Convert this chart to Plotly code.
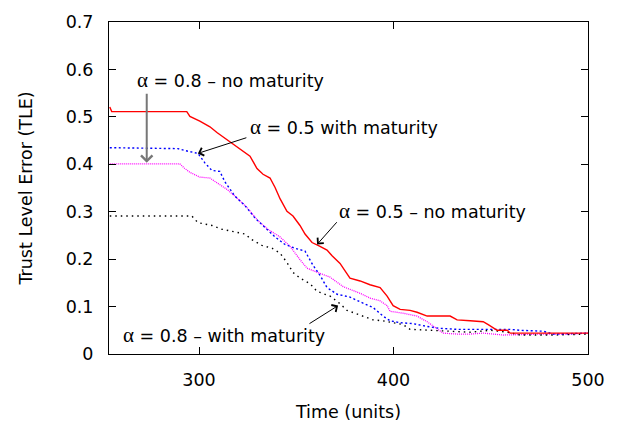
import plotly.graph_objects as go

# alpha = 0.5 - no maturity (red, solid)
red_t = [254.1, 255.1, 293.7, 295.3, 300.4, 305.6, 309.2, 315.9, 321.0, 326.2, 329.8, 332.9,
         336.5, 339.1, 341.7, 345.2, 348.3, 351.9, 354.5, 358.1, 362.2, 365.8, 368.4, 372.5,
         377.6, 382.8, 387.9, 393.1, 396.7, 399.8, 403.4, 408.5, 412.1, 417.3, 429.1, 432.7,
         439.4, 446.1, 448.7, 453.3, 458.5, 460.0, 500.0]
red_v = [0.521, 0.511, 0.511, 0.501, 0.491, 0.479, 0.467, 0.447, 0.431, 0.417, 0.391, 0.379,
         0.371, 0.351, 0.327, 0.301, 0.291, 0.271, 0.253, 0.235, 0.227, 0.219, 0.207, 0.191,
         0.160, 0.154, 0.146, 0.140, 0.122, 0.102, 0.094, 0.092, 0.088, 0.080, 0.080, 0.072,
         0.070, 0.068, 0.062, 0.050, 0.050, 0.044, 0.044]

# alpha = 0.5 with maturity (blue, dotted)
blue_t = [254.1, 289.1, 292.7, 299.4, 303.0, 306.6, 310.7, 313.3, 318.4, 323.6, 328.7, 333.9,
          339.0, 344.2, 349.3, 354.5, 358.6, 362.2, 365.8, 371.0, 377.6, 382.8, 389.5, 394.6,
          398.2, 403.4, 410.1, 417.3, 424.0, 432.7, 446.1, 460.0, 465.1, 477.0, 482.1, 500.0]
blue_v = [0.435, 0.433, 0.429, 0.423, 0.403, 0.387, 0.385, 0.363, 0.333, 0.313, 0.287, 0.267,
          0.247, 0.231, 0.223, 0.217, 0.187, 0.166, 0.140, 0.126, 0.120, 0.110, 0.098, 0.080,
          0.070, 0.066, 0.064, 0.058, 0.054, 0.052, 0.052, 0.052, 0.050, 0.048, 0.042, 0.044]

# alpha = 0.8 - no maturity (magenta, dotted)
mag_t = [254.1, 290.1, 292.7, 295.3, 300.4, 305.6, 309.2, 314.4, 320.0, 325.1, 330.3, 335.4,
         341.6, 346.8, 351.9, 355.5, 362.2, 367.4, 374.1, 382.8, 387.9, 393.1, 396.7, 398.2,
         404.9, 412.1, 417.3, 422.4, 425.5, 432.7, 439.4, 446.1, 456.4, 475.5, 490.9, 500.0]
mag_v = [0.401, 0.401, 0.391, 0.383, 0.373, 0.371, 0.361, 0.347, 0.327, 0.307, 0.281, 0.263,
         0.247, 0.227, 0.199, 0.181, 0.170, 0.162, 0.142, 0.128, 0.118, 0.112, 0.102, 0.090,
         0.086, 0.080, 0.068, 0.052, 0.044, 0.042, 0.042, 0.044, 0.040, 0.042, 0.042, 0.044]

# alpha = 0.8 - with maturity (black, dotted)
blk_t = [254.1, 296.3, 299.4, 306.6, 311.8, 318.4, 323.6, 327.2, 332.3, 337.5, 341.6, 345.2,
         348.3, 351.9, 357.1, 360.7, 367.4, 372.5, 376.1, 382.8, 389.5, 394.6, 399.8, 404.9,
         408.5, 417.3, 429.1, 439.4, 449.7, 458.5, 465.1, 482.1, 500.0]
blk_v = [0.291, 0.291, 0.277, 0.271, 0.263, 0.257, 0.253, 0.241, 0.229, 0.223, 0.213, 0.193,
         0.172, 0.160, 0.148, 0.132, 0.122, 0.106, 0.092, 0.082, 0.072, 0.070, 0.066, 0.062,
         0.052, 0.050, 0.048, 0.046, 0.050, 0.046, 0.040, 0.040, 0.042]

y_ticks = [0, 0.1, 0.2, 0.3, 0.4, 0.5, 0.6, 0.7]
y_tick_labels = ["0", "0.1", "0.2", "0.3", "0.4", "0.5", "0.6", "0.7"]
x_ticks = [300, 400, 500]

FONT = "DejaVu Sans"
FS = 17.5
ALPHA = '<span style="font-family:\'Liberation Serif\'; font-size:21px">α</span>'

fig = go.Figure()
fig.add_trace(go.Scatter(x=mag_t, y=mag_v, mode="lines",
                         line=dict(color="#ff00ff", width=1.3, dash="1px,1px")))
fig.add_trace(go.Scatter(x=blk_t, y=blk_v, mode="lines",
                         line=dict(color="#000000", width=1.4, dash="1.5px,4px")))
fig.add_trace(go.Scatter(x=blue_t, y=blue_v, mode="lines",
                         line=dict(color="#0000ff", width=1.4, dash="2px,2.5px")))
fig.add_trace(go.Scatter(x=red_t, y=red_v, mode="lines",
                         line=dict(color="#ff0000", width=1.4)))

axis_common = dict(showgrid=False, zeroline=False, showline=True, linecolor="black",
                   linewidth=1, mirror="ticks", ticks="inside", ticklen=7,
                   tickcolor="black", tickwidth=1,
                   tickfont=dict(family=FONT, size=FS, color="black"))

fig.update_xaxes(range=[253.7, 500], tickvals=x_ticks, ticktext=[str(v) for v in x_ticks],
                 ticklabelstandoff=10,
                 title=dict(text="Time (units)", font=dict(family=FONT, size=FS, color="black"),
                            standoff=16),
                 **axis_common)
fig.update_yaxes(range=[0, 0.7], tickvals=y_ticks, ticktext=y_tick_labels,
                 ticklabelstandoff=11,
                 title=dict(text="Trust Level Error (TLE)",
                            font=dict(family=FONT, size=FS, color="black"), standoff=28),
                 **axis_common)

# label texts
labels = [
    (266.9, 0.578, ALPHA + " = 0.8 – no maturity"),
    (325.1, 0.479, ALPHA + " = 0.5 with maturity"),
    (371.0, 0.301, ALPHA + " = 0.5 – no maturity"),
    (259.8, 0.040, ALPHA + " = 0.8 – with maturity"),
]
for x, y, t in labels:
    fig.add_annotation(x=x, y=y, text=t, showarrow=False, xanchor="left", yanchor="middle",
                       font=dict(family=FONT, size=FS, color="black"))

# arrows: (head_x, head_y, tail_x, tail_y, color, width)
arrows = [
    (273.1, 0.403, 273.1, 0.552, "#777777", 2),
    (299.4, 0.423, 325.1, 0.457, "black", 1),
    (360.7, 0.231, 371.5, 0.281, "black", 1),
    (371.5, 0.102, 356.0, 0.062, "black", 1),
]
for hx, hy, tx, ty, c, w in arrows:
    fig.add_annotation(x=hx, y=hy, ax=tx, ay=ty, axref="x", ayref="y", xref="x", yref="y",
                       text="", showarrow=True, arrowhead=4, arrowsize=1.6 if w == 1 else 1.1,
                       arrowwidth=w, arrowcolor=c)

fig.update_layout(width=627, height=430, showlegend=False,
                  margin=dict(l=109, r=39, t=14, b=67),
                  plot_bgcolor="white", paper_bgcolor="white",
                  font=dict(family=FONT, size=FS, color="black"))

fig.write_html("out.html")
